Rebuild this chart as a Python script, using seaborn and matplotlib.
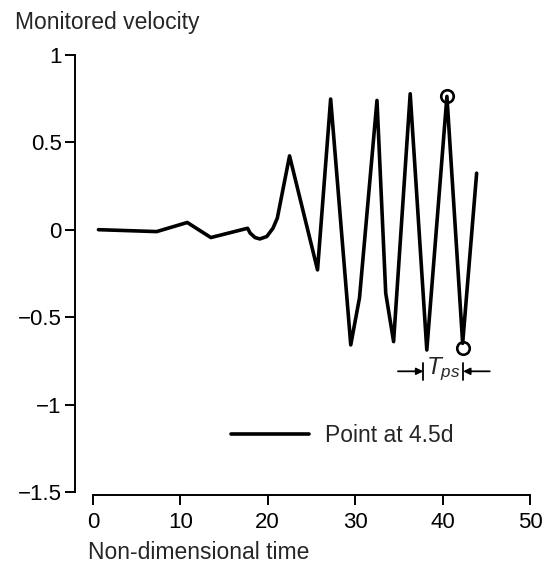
import numpy as np
import pandas as pd
import matplotlib
matplotlib.use("Agg")
import matplotlib.pyplot as plt
import seaborn as sns

# Dados
tempo = [0.64, 7.3, 10.8, 13.5, 17.7, 18.0, 18.55, 19.1, 19.9, 20.6, 21.1,
         22.5, 25.7, 27.2, 29.5, 30.5, 32.5, 33.5, 34.4, 36.3, 38.2, 40.5,
         42.3, 43.9]
velocidade = [0.0, -0.011, 0.041, -0.045, 0.008, -0.02, -0.045, -0.053, -0.039,
              0.008, 0.066, 0.422, -0.23, 0.747, -0.659, -0.39, 0.739, -0.363,
              -0.64, 0.777, -0.688, 0.762, -0.65, 0.323]
circulos_x = [40.5, 42.35]
circulos_y = [0.765, -0.678]
xticks = [0, 10, 20, 30, 40, 50]
yticks = [-1.5, -1, -0.5, 0, 0.5, 1]
ytick_labels = ['\u22121.5', '\u22121', '\u22120.5', '0', '0.5', '1']

sns.set_style("ticks")
plt.rcParams['font.family'] = ['Liberation Sans', 'DejaVu Sans']
plt.rcParams['mathtext.fontset'] = 'custom'
plt.rcParams['mathtext.it'] = 'Liberation Sans:italic'
plt.rcParams['mathtext.rm'] = 'Liberation Sans'

fig = plt.figure(figsize=(5.43, 5.65), dpi=100)
ax = fig.add_axes([0.138, 0.124, 0.838, 0.779])

df = pd.DataFrame({'t': tempo, 'v': velocidade})
sns.lineplot(data=df, x='t', y='v', sort=False, estimator=None, color='black',
             linewidth=2.6, label='Point at 4.5d', ax=ax)
ax.plot(circulos_x, circulos_y, 'o', ms=9, mfc='none', mec='black', mew=1.9)

# Anotação do período T_ps
ax.annotate('', xy=(37.8, -0.81), xytext=(34.9, -0.81),
            arrowprops=dict(arrowstyle='-|>', color='black', lw=1.3, mutation_scale=10,
                            shrinkA=0, shrinkB=0))
ax.annotate('', xy=(42.35, -0.81), xytext=(45.4, -0.81),
            arrowprops=dict(arrowstyle='-|>', color='black', lw=1.3, mutation_scale=10,
                            shrinkA=0, shrinkB=0))
ax.plot([37.8, 37.8], [-0.76, -0.86], color='black', lw=1.3)
ax.plot([42.35, 42.35], [-0.76, -0.86], color='black', lw=1.3)
ax.text(40.05, -0.80, r'$T_{ps}$', ha='center', va='center', fontsize=17.5)

ax.set_xlim(-2.05, 50)
ax.set_ylim(-1.517, 1.0)
ax.set_xticks(xticks)
ax.set_yticks(yticks)
ax.set_xticklabels([str(t) for t in xticks])
ax.set_yticklabels(ytick_labels)
ax.spines['top'].set_visible(False)
ax.spines['right'].set_visible(False)
ax.spines['left'].set_bounds(-1.5, 1)
ax.spines['bottom'].set_bounds(0, 50)
for s in ['left', 'bottom']:
    ax.spines[s].set_linewidth(1.4)
    ax.spines[s].set_color('black')
ax.tick_params(axis='both', direction='out', length=7.5, width=1.4, labelsize=16,
               colors='black')
ax.tick_params(axis='y', pad=2)
ax.tick_params(axis='x', pad=5)
ax.set_xlabel('')
ax.set_ylabel('')
ax.patch.set_alpha(0)

leg = ax.legend(loc='center left', bbox_to_anchor=(0.344, 0.135), frameon=False,
                fontsize=16.5, handlelength=3.4, handletextpad=0.7,
                borderpad=0, borderaxespad=0)

fig.text(15 / 543, 1 - 29.5 / 565, 'Monitored velocity', fontsize=16.5, va='baseline', ha='left')
fig.text(88 / 543, 1 - 559 / 565, 'Non-dimensional time', fontsize=16.5, va='baseline', ha='left')

fig.savefig('out.png', dpi=100)
